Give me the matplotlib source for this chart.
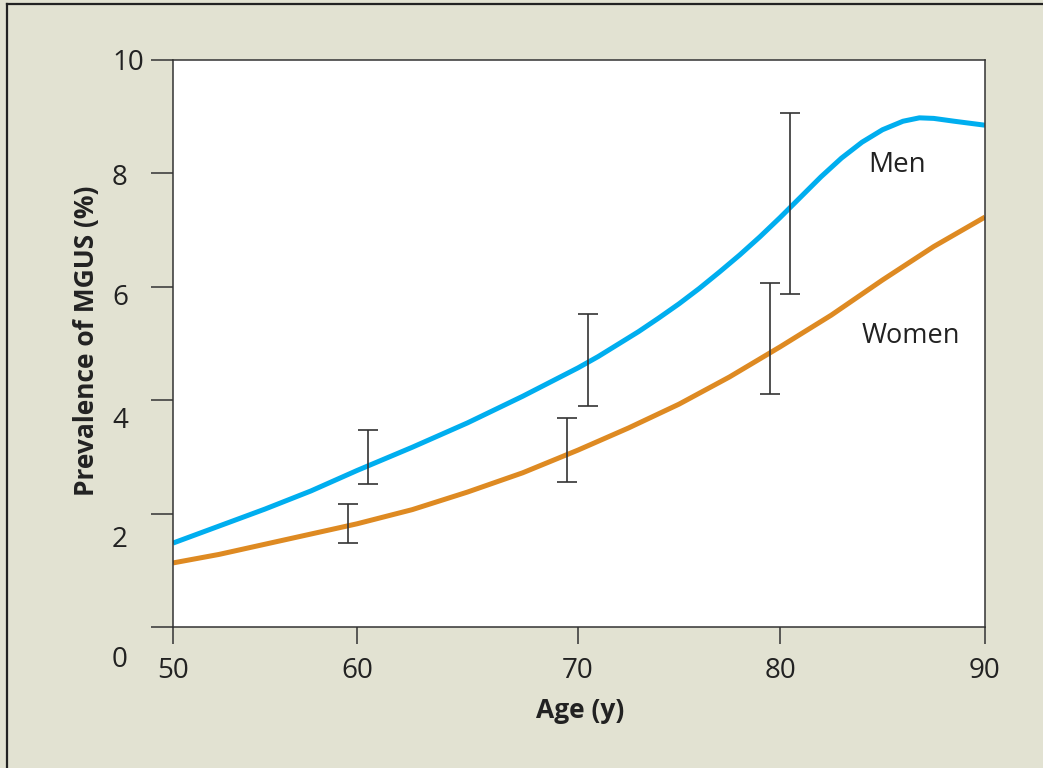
"""
MGUS prevalence by age, men vs women
"""

import numpy as np
import matplotlib
matplotlib.use("Agg")
import matplotlib.pyplot as plt
from matplotlib import transforms
from matplotlib.lines import Line2D

# curves (age in years, prevalence in %)
men_age = [50, 52.5, 55, 57.5, 60, 62.5, 65, 67.5, 70, 71, 72, 73, 74, 75, 76, 77, 78, 79, 80,
           81, 82, 83, 84, 85, 86, 86.8, 87.5, 88.5, 90]
men_prev = [1.48, 1.78, 2.08, 2.40, 2.76, 3.17, 3.60, 4.07, 4.57, 4.77, 4.99, 5.21, 5.45, 5.70, 5.97,
            6.26, 6.56, 6.88, 7.22, 7.58, 7.94, 8.27, 8.55, 8.77, 8.92, 8.98, 8.97, 8.92, 8.85]

women_age = [50, 52.5, 55, 57.5, 60, 62.5, 65, 67.5, 70, 72.5, 75, 77.5, 80, 82.5, 85, 87.5, 90]
women_prev = [1.13, 1.28, 1.46, 1.64, 1.82, 2.07, 2.38, 2.72, 3.12, 3.51, 3.93, 4.41, 4.94, 5.50, 6.12, 6.71, 7.23]

# error bars (low / high ends)
men_bar_age = [60.5, 70.5, 80.5]
men_bar_low = [2.52, 3.90, 5.87]
men_bar_high = [3.47, 5.52, 9.07]

women_bar_age = [59.5, 69.5, 79.5]
women_bar_low = [1.48, 2.56, 4.11]
women_bar_high = [2.17, 3.69, 6.07]

xticks = [50, 60, 70, 80, 90]
yticks = [0, 2, 4, 6, 8, 10]

bg = "#e2e2d2"
ink = "#333333"
blue = "#00aeef"
orange = "#de8a22"

plt.rcParams["font.family"] = ["Open Sans", "DejaVu Sans"]

fig = plt.figure(figsize=(10.43, 7.68), dpi=100)
fig.set_facecolor(bg)
ax = fig.add_axes([173/1043, 1 - 627/768, 812/1043, 567/768])

# the original x axis is hand drawn: decades are not evenly spaced
tick_frac = [0, 184, 405, 607, 812]
def fwd(x):
    return np.interp(x, xticks, tick_frac)
def inv(x):
    return np.interp(x, tick_frac, xticks)
ax.set_xscale("function", functions=(fwd, inv))

ax.plot(men_age, men_prev, color=blue, lw=3.6, solid_capstyle="butt", solid_joinstyle="round", zorder=2)
ax.plot(women_age, women_prev, color=orange, lw=3.6, solid_capstyle="butt", solid_joinstyle="round", zorder=2)

for bx, lo, hi in [(men_bar_age, men_bar_low, men_bar_high),
                   (women_bar_age, women_bar_low, women_bar_high)]:
    lo = np.array(lo)
    hi = np.array(hi)
    mid = (lo + hi) / 2
    ax.errorbar(bx, mid, yerr=[mid - lo, hi - mid], fmt="none", ecolor=ink,
                elinewidth=1.2, capsize=7.5, capthick=1.2, zorder=3)

ax.set_xlim(50, 90)
ax.set_ylim(0, 10)

for s in ax.spines.values():
    s.set_color(ink)
    s.set_linewidth(1.1)

ax.set_xticks(xticks)
ax.set_xticklabels([str(t) for t in xticks])
ax.tick_params(axis="x", length=12.5, width=1.1, color=ink, labelsize=20, pad=9, labelcolor="#222222")
ax.set_yticks(yticks)
ax.set_yticklabels([])
ax.tick_params(axis="y", length=16, width=1.1, color=ink)

# y labels sit left-aligned and drift below their ticks in the original
label_drop = [33, 26, 21, 11, 5, 3.5]
blend = transforms.blended_transform_factory(fig.transFigure, ax.transData)
for v, d in zip(yticks, label_drop):
    tr = transforms.offset_copy(blend, fig=fig, x=0, y=-d, units="dots")
    ax.text(112/1043, v, str(v), transform=tr, ha="left", va="center",
            fontsize=20, color="#222222")

ax.text(84.3, 8.02, "Men", fontsize=20, color="#222222", va="baseline", ha="left")
ax.text(84.0, 5.01, "Women", fontsize=19.5, color="#222222", va="baseline", ha="left")

fig.text(87/1043, 1 - 341/768, "Prevalence of MGUS (%)", rotation=90, ha="center", va="center",
         fontsize=19, fontweight="bold", color="#222222")
fig.text(580/1043, 1 - 710/768, "Age (y)", ha="center", va="center",
         fontsize=19, fontweight="bold", color="#222222")

# frame lines (top and left only)
fig.add_artist(Line2D([7/1043, 7/1043], [0, 1 - 4/768], transform=fig.transFigure, color="#222222", lw=1.6))
fig.add_artist(Line2D([7/1043, 1], [1 - 4/768, 1 - 4/768], transform=fig.transFigure, color="#222222", lw=1.6))

fig.savefig("out.png", dpi=100, facecolor=bg)
